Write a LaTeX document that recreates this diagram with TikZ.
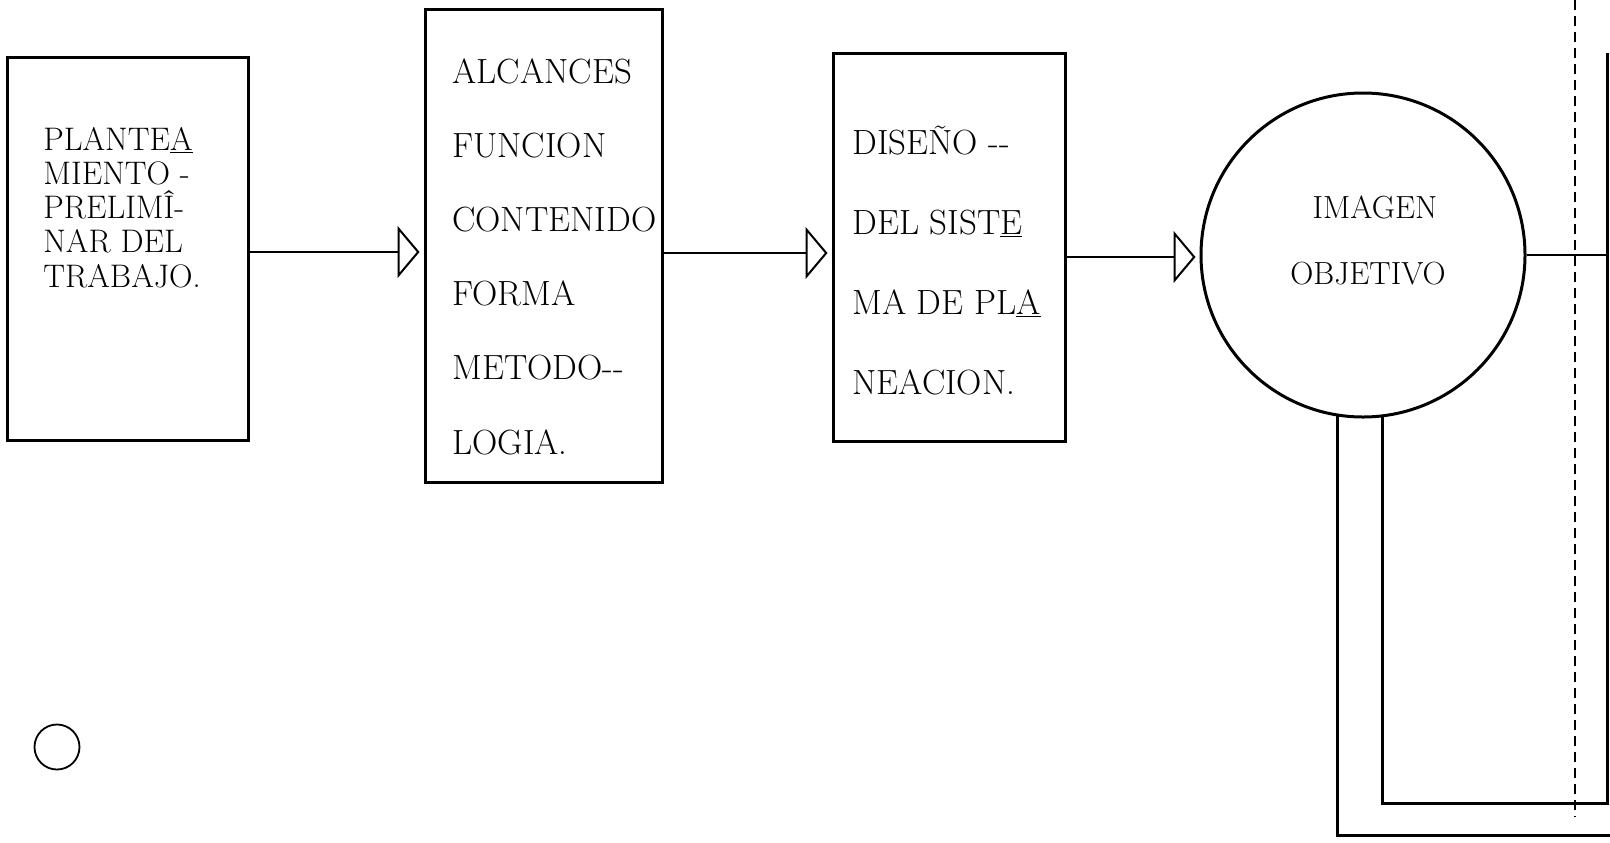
\documentclass[tikz,border=0pt]{standalone}
\usepackage{fontspec}
\usetikzlibrary{arrows.meta}
\tikzset{
  blk/.style={draw, line width=1.5pt, inner sep=0pt},
  conn/.style={line width=1pt, -{Triangle[open,length=11pt,width=26pt,line width=1pt]}, shorten >=2pt},
  bar/.style={line width=1.5pt},
  txtA/.style={anchor=base west, inner sep=0pt, font=\fontsize{16.3}{17}\selectfont},
  txtB/.style={anchor=base west, inner sep=0pt, font=\fontsize{17.5}{19}\selectfont},
  txtC/.style={anchor=base, inner sep=0pt, font=\fontsize{16}{17}\selectfont},
}
\begin{document}
\begin{tikzpicture}[x=0.5pt,y=-0.5pt]
\useasboundingbox (0,0) rectangle (1610,842);
% boxes
\node[blk, minimum width=120.5pt, minimum height=191.5pt] (b1) at (127.5,248.5) {};
\node[blk, minimum width=118.5pt, minimum height=236.5pt] (b2) at (543.5,245.5) {};
\node[blk, minimum width=116pt, minimum height=194pt] (b3) at (949,247) {};
\node[blk, circle, minimum size=162pt] (circ) at (1363,255) {};
\node[draw, circle, line width=0.9pt, minimum size=22.5pt, inner sep=0pt] (small) at (57,747) {};
% texts
\foreach \t [count=\i] in {{PLANTE\underline{A}}, {MIENTO -}, {PRELIMÎ-}, {NAR DEL}, {TRABAJO.}}
  \node[txtA] (b1t\i) at (43,{150+34.3*(\i-1)}) {\t};
\foreach \t [count=\i] in {ALCANCES, FUNCION, CONTENIDO, FORMA, {METODO-{}-}, LOGIA.}
  \node[txtB] (b2t\i) at (452,{83+74.2*(\i-1)}) {\t};
\foreach \t [count=\i] in {{DISEÑO -{}-}, {DEL SIST\underline{E}}, {MA DE PL\underline{A}}, NEACION.}
  \node[txtB] (b3t\i) at (852,{154+80*(\i-1)}) {\t};
\node[txtC] (ct1) at (1375,218) {\addfontfeature{LetterSpace=8}IMAGEN};
\node[txtC] (ct2) at (1368,284) {OBJETIVO};
% helper coordinates
\coordinate (y1) at (0,252);
\coordinate (y2) at (0,253);
\coordinate (y3) at (0,257);
\coordinate (rtop) at (1607,53);
\coordinate (innerc) at (1607,803);
\coordinate (outerc) at (1610,835);
\coordinate (dtop) at (1575,0);
\coordinate (dbot) at (1575,817);
% connectors
\draw[conn] (b1.east |- y1) -- (b2.west |- y1);
\draw[conn] (b2.east |- y2) -- (b3.west |- y2);
\draw[conn] (b3.east |- y3) -- (circ.west |- y3);
\draw[line width=1pt] (circ.east) -- (circ.east -| rtop);
\draw[bar] (circ.-83.6) |- (innerc) -- (rtop);
\draw[bar] (circ.-99.6) |- (outerc);
\draw[line width=0.7pt, dash pattern=on 5pt off 3pt] (dtop) -- (dbot);
\end{tikzpicture}
\end{document}
